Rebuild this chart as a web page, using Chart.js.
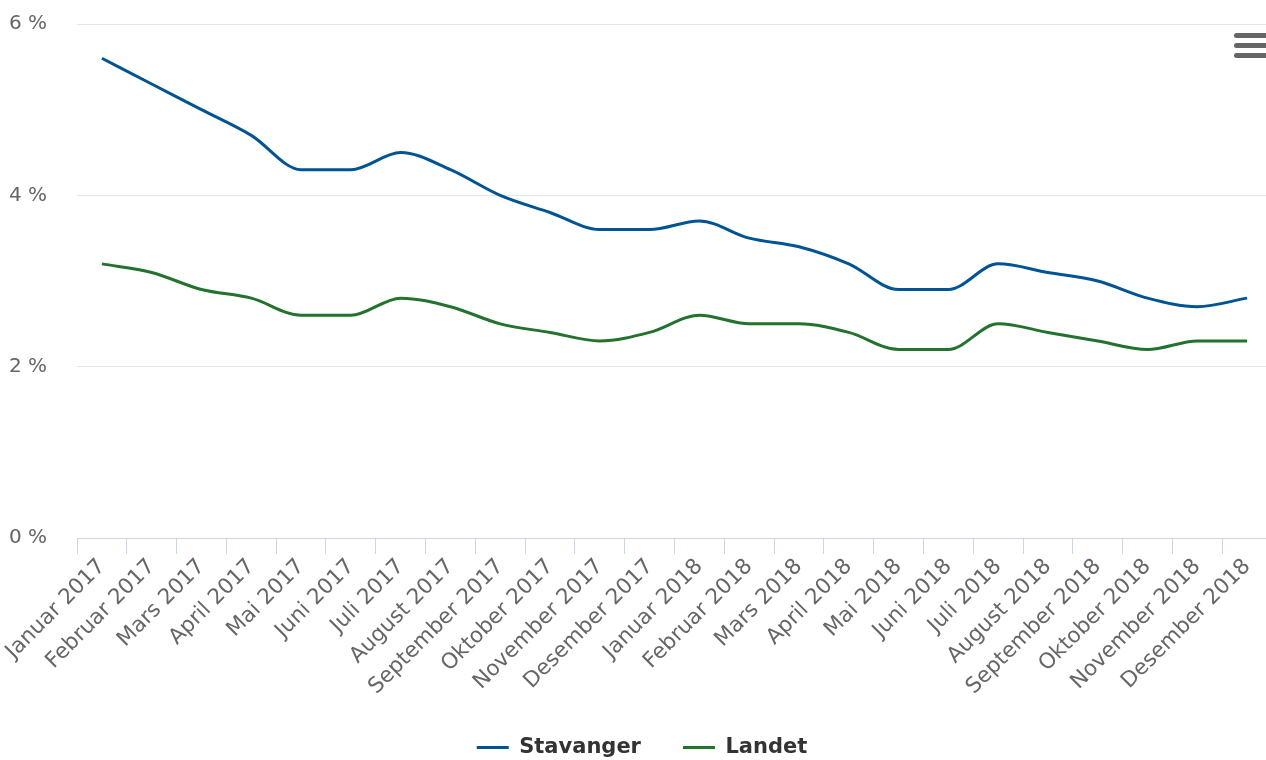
<!DOCTYPE html>
<html>
<head>
<meta charset="utf-8">
<script src="https://cdn.jsdelivr.net/npm/chart.js@4"></script>
<style>
    html, body { margin: 0; padding: 0; background: #fff; overflow: hidden; }
    #wrap { position: relative; width: 1275px; height: 786px; margin-top: -18px; }
    .menu-bar { position: absolute; left: 1234px; width: 40px; height: 5px; border-radius: 3px; background: #666; }
</style>
</head>
<body>
<div id="wrap">
    <canvas id="myChart"></canvas>
    <div class="menu-bar" style="top: 51px"></div>
    <div class="menu-bar" style="top: 61px"></div>
    <div class="menu-bar" style="top: 71px"></div>
</div>
<script>
const months = ['Januar 2017', 'Februar 2017', 'Mars 2017', 'April 2017', 'Mai 2017', 'Juni 2017',
    'Juli 2017', 'August 2017', 'September 2017', 'Oktober 2017', 'November 2017', 'Desember 2017',
    'Januar 2018', 'Februar 2018', 'Mars 2018', 'April 2018', 'Mai 2018', 'Juni 2018',
    'Juli 2018', 'August 2018', 'September 2018', 'Oktober 2018', 'November 2018', 'Desember 2018'];
const stavanger = [5.6, 5.3, 5.0, 4.7, 4.3, 4.3, 4.5, 4.3, 4.0, 3.8, 3.6, 3.6,
    3.7, 3.5, 3.4, 3.2, 2.9, 2.9, 3.2, 3.1, 3.0, 2.8, 2.7, 2.8];
const landet = [3.2, 3.1, 2.9, 2.8, 2.6, 2.6, 2.8, 2.7, 2.5, 2.4, 2.3, 2.4,
    2.6, 2.5, 2.5, 2.4, 2.2, 2.2, 2.5, 2.4, 2.3, 2.2, 2.3, 2.3];
const yTicks = [0, 2, 4, 6];

document.addEventListener('DOMContentLoaded', function () {
    Chart.defaults.font.family = '"DejaVu Sans", sans-serif';

    // nudge the legend a bit to the right, like the original
    const legendShift = {
        id: 'legendShift',
        afterLayout(chart) {
            chart.legend.left += 6;
            chart.legend.right += 6;
        }
    };

    const ctx = document.getElementById('myChart').getContext('2d');
    const myChart = new Chart(ctx, {
        type: 'line',
        data: {
            labels: months,
            datasets: [{
                label: 'Stavanger',
                data: stavanger,
                borderColor: '#005494',
                backgroundColor: '#005494',
                borderWidth: 3,
                pointRadius: 0,
                cubicInterpolationMode: 'monotone'
            }, {
                label: 'Landet',
                data: landet,
                borderColor: '#23722e',
                backgroundColor: '#23722e',
                borderWidth: 3,
                pointRadius: 0,
                cubicInterpolationMode: 'monotone'
            }]
        },
        options: {
            responsive: true,
            maintainAspectRatio: false,
            animation: false,
            layout: { padding: { top: 8, right: 3, left: 0, bottom: 0 } },
            plugins: {
                tooltip: { enabled: false },
                legend: {
                    position: 'bottom',
                    labels: {
                        color: '#333',
                        font: { size: 21, weight: 'bold' },
                        boxWidth: 32,
                        boxHeight: 3,
                        padding: 42,
                        generateLabels: function (chart) {
                            const items = Chart.defaults.plugins.legend.labels.generateLabels(chart);
                            items.forEach(item => { item.lineWidth = 0; });
                            return items;
                        }
                    }
                }
            },
            scales: {
                x: {
                    offset: true,
                    afterFit: function (scale) { scale.height = 157; },
                    border: { color: '#ccd6eb', width: 1 },
                    grid: {
                        offset: true,
                        drawOnChartArea: false,
                        color: '#ccd6eb',
                        tickLength: 16
                    },
                    ticks: {
                        color: '#666',
                        font: { size: 21.5 },
                        minRotation: 45,
                        maxRotation: 45,
                        autoSkip: false,
                        padding: 0
                    }
                },
                y: {
                    min: 0,
                    max: 6,
                    afterFit: function (scale) { scale.width = 77; },
                    afterBuildTicks: function (scale) {
                        scale.ticks = yTicks.map(v => ({ value: v }));
                    },
                    border: { display: false },
                    grid: {
                        color: '#e6e6e6',
                        drawTicks: false
                    },
                    ticks: {
                        color: '#666',
                        font: { size: 20 },
                        padding: 30,
                        callback: v => v + ' %'
                    }
                }
            }
        },
        plugins: [legendShift]
    });
});
</script>
</body>
</html>
